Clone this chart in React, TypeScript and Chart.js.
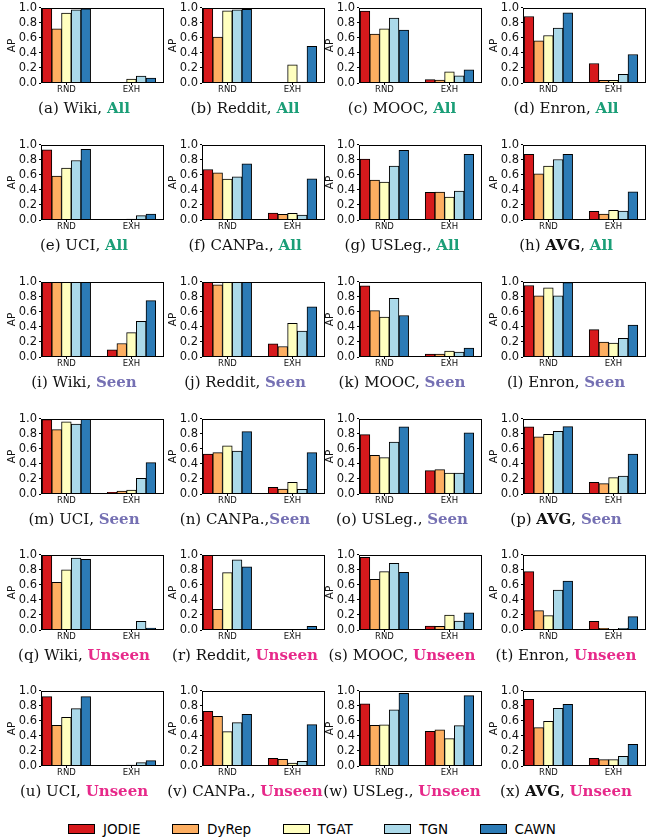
import React, { useEffect, useRef } from 'react';
import { Chart, registerables } from 'chart.js';

Chart.register(...registerables);
Chart.defaults.font.family = "'DejaVu Sans', sans-serif";

const SERIES = ['JODIE', 'DyRep', 'TGAT', 'TGN', 'CAWN'];
const COLORS = ['#d7191c', '#fdae61', '#ffffbf', '#abd9e9', '#2c7bb6'];
const CATEGORIES = ['RND', 'EXH'];
const Y_TICKS = [0, 0.2, 0.4, 0.6, 0.8, 1.0];

const SETTING_COLORS: Record<string, string> = { All: '#1b9e77', Seen: '#7570b3', Unseen: '#e7298a' };

// Values per panel: RND then EXH, in SERIES order
const wikiAll_RND = [0.995, 0.72, 0.93, 0.973, 0.987];
const wikiAll_EXH = [0.004, 0.004, 0.053, 0.093, 0.066];
const redditAll_RND = [0.995, 0.61, 0.96, 0.973, 0.98];
const redditAll_EXH = [0.004, 0.004, 0.243, 0.013, 0.487];
const moocAll_RND = [0.956, 0.65, 0.72, 0.863, 0.703];
const moocAll_EXH = [0.044, 0.04, 0.15, 0.097, 0.177];
const enronAll_RND = [0.885, 0.562, 0.633, 0.73, 0.934];
const enronAll_EXH = [0.26, 0.035, 0.035, 0.115, 0.38];
const uciAll_RND = [0.934, 0.584, 0.69, 0.792, 0.942];
const uciAll_EXH = [0.003, 0.003, 0.013, 0.058, 0.08];
const canpaAll_RND = [0.673, 0.628, 0.544, 0.575, 0.748];
const canpaAll_EXH = [0.093, 0.075, 0.088, 0.066, 0.549];
const uslegAll_RND = [0.81, 0.531, 0.504, 0.717, 0.929];
const uslegAll_EXH = [0.367, 0.372, 0.305, 0.385, 0.876];
const avgAll_RND = [0.876, 0.615, 0.717, 0.805, 0.876];
const avgAll_EXH = [0.115, 0.08, 0.128, 0.12, 0.376];

const wikiSeen_RND = [0.995, 0.995, 0.995, 0.995, 0.995];
const wikiSeen_EXH = [0.096, 0.18, 0.325, 0.474, 0.75];
const redditSeen_RND = [0.995, 0.96, 0.995, 0.995, 0.995];
const redditSeen_EXH = [0.175, 0.14, 0.447, 0.346, 0.667];
const moocSeen_RND = [0.947, 0.618, 0.53, 0.78, 0.553];
const moocSeen_EXH = [0.04, 0.04, 0.08, 0.066, 0.118];
const enronSeen_RND = [0.952, 0.816, 0.92, 0.816, 0.99];
const enronSeen_EXH = [0.364, 0.2, 0.184, 0.25, 0.425];
const uciSeen_RND = [0.99, 0.858, 0.96, 0.93, 0.998];
const uciSeen_EXH = [0.022, 0.04, 0.053, 0.21, 0.418];
const canpaSeen_RND = [0.533, 0.551, 0.64, 0.573, 0.831];
const canpaSeen_EXH = [0.089, 0.067, 0.156, 0.062, 0.551];
const uslegSeen_RND = [0.791, 0.516, 0.484, 0.693, 0.893];
const uslegSeen_EXH = [0.311, 0.324, 0.28, 0.28, 0.813];
const avgSeen_RND = [0.893, 0.76, 0.796, 0.836, 0.898];
const avgSeen_EXH = [0.156, 0.138, 0.218, 0.24, 0.533];

const wikiUnseen_RND = [0.995, 0.636, 0.8, 0.956, 0.942];
const wikiUnseen_EXH = [0.003, 0.003, 0.005, 0.115, 0.027];
const redditUnseen_RND = [0.995, 0.276, 0.764, 0.933, 0.84];
const redditUnseen_EXH = [0.005, 0.005, 0.005, 0.005, 0.049];
const moocUnseen_RND = [0.969, 0.676, 0.778, 0.889, 0.769];
const moocUnseen_EXH = [0.053, 0.049, 0.2, 0.12, 0.227];
const enronUnseen_RND = [0.778, 0.258, 0.191, 0.533, 0.653];
const enronUnseen_EXH = [0.115, 0.022, 0.004, 0.022, 0.178];
const uciUnseen_RND = [0.924, 0.542, 0.649, 0.764, 0.924];
const uciUnseen_EXH = [0.003, 0.003, 0.013, 0.044, 0.071];
const canpaUnseen_RND = [0.729, 0.662, 0.458, 0.578, 0.689];
const canpaUnseen_EXH = [0.102, 0.089, 0.04, 0.062, 0.551];
const uslegUnseen_RND = [0.827, 0.542, 0.547, 0.747, 0.969];
const uslegUnseen_EXH = [0.462, 0.48, 0.364, 0.538, 0.938];
const avgUnseen_RND = [0.889, 0.511, 0.596, 0.769, 0.822];
const avgUnseen_EXH = [0.102, 0.084, 0.084, 0.129, 0.289];

type PanelDef = { letter: string; name: string; setting: string; sep: string; rnd: number[]; exh: number[] };

const PANELS: PanelDef[] = [
  { letter: 'a', name: 'Wiki', setting: 'All', sep: ', ', rnd: wikiAll_RND, exh: wikiAll_EXH },
  { letter: 'b', name: 'Reddit', setting: 'All', sep: ', ', rnd: redditAll_RND, exh: redditAll_EXH },
  { letter: 'c', name: 'MOOC', setting: 'All', sep: ', ', rnd: moocAll_RND, exh: moocAll_EXH },
  { letter: 'd', name: 'Enron', setting: 'All', sep: ', ', rnd: enronAll_RND, exh: enronAll_EXH },
  { letter: 'e', name: 'UCI', setting: 'All', sep: ', ', rnd: uciAll_RND, exh: uciAll_EXH },
  { letter: 'f', name: 'CANPa.', setting: 'All', sep: ', ', rnd: canpaAll_RND, exh: canpaAll_EXH },
  { letter: 'g', name: 'USLeg.', setting: 'All', sep: ', ', rnd: uslegAll_RND, exh: uslegAll_EXH },
  { letter: 'h', name: 'AVG', setting: 'All', sep: ', ', rnd: avgAll_RND, exh: avgAll_EXH },
  { letter: 'i', name: 'Wiki', setting: 'Seen', sep: ', ', rnd: wikiSeen_RND, exh: wikiSeen_EXH },
  { letter: 'j', name: 'Reddit', setting: 'Seen', sep: ', ', rnd: redditSeen_RND, exh: redditSeen_EXH },
  { letter: 'k', name: 'MOOC', setting: 'Seen', sep: ', ', rnd: moocSeen_RND, exh: moocSeen_EXH },
  { letter: 'l', name: 'Enron', setting: 'Seen', sep: ', ', rnd: enronSeen_RND, exh: enronSeen_EXH },
  { letter: 'm', name: 'UCI', setting: 'Seen', sep: ', ', rnd: uciSeen_RND, exh: uciSeen_EXH },
  { letter: 'n', name: 'CANPa.', setting: 'Seen', sep: ',', rnd: canpaSeen_RND, exh: canpaSeen_EXH },
  { letter: 'o', name: 'USLeg.', setting: 'Seen', sep: ', ', rnd: uslegSeen_RND, exh: uslegSeen_EXH },
  { letter: 'p', name: 'AVG', setting: 'Seen', sep: ', ', rnd: avgSeen_RND, exh: avgSeen_EXH },
  { letter: 'q', name: 'Wiki', setting: 'Unseen', sep: ', ', rnd: wikiUnseen_RND, exh: wikiUnseen_EXH },
  { letter: 'r', name: 'Reddit', setting: 'Unseen', sep: ', ', rnd: redditUnseen_RND, exh: redditUnseen_EXH },
  { letter: 's', name: 'MOOC', setting: 'Unseen', sep: ', ', rnd: moocUnseen_RND, exh: moocUnseen_EXH },
  { letter: 't', name: 'Enron', setting: 'Unseen', sep: ', ', rnd: enronUnseen_RND, exh: enronUnseen_EXH },
  { letter: 'u', name: 'UCI', setting: 'Unseen', sep: ', ', rnd: uciUnseen_RND, exh: uciUnseen_EXH },
  { letter: 'v', name: 'CANPa.', setting: 'Unseen', sep: ', ', rnd: canpaUnseen_RND, exh: canpaUnseen_EXH },
  { letter: 'w', name: 'USLeg.', setting: 'Unseen', sep: ', ', rnd: uslegUnseen_RND, exh: uslegUnseen_EXH },
  { letter: 'x', name: 'AVG', setting: 'Unseen', sep: ', ', rnd: avgUnseen_RND, exh: avgUnseen_EXH },
];

// Layout (pixels)
const COL_LEFT = [41, 202, 359, 523];
const ROW_TOP = [7, 144, 281, 418, 554, 690];
const PLOT_W = 123;
const PLOT_H = 76;
const Y_AXIS_W = 41;
const X_AXIS_H = 16;
const PAD_TOP = 8;
const PAD_RIGHT = 2;

const framePlugin = {
  id: 'frame',
  afterDatasetsDraw(chart: any) {
    const { ctx, chartArea } = chart;
    const l = Math.round(chartArea.left) + 0.5;
    const t = Math.round(chartArea.top) + 0.5;
    const r = Math.round(chartArea.right) - 0.5;
    const b = Math.round(chartArea.bottom) - 0.5;
    ctx.save();
    ctx.strokeStyle = '#000';
    ctx.lineWidth = 1;
    ctx.strokeRect(l, t, r - l, b - t);
    ctx.restore();
  },
};

function Panel({ def, left, top }: { def: PanelDef; left: number; top: number }) {
  const ref = useRef<HTMLCanvasElement>(null);
  useEffect(() => {
    const chart = new Chart(ref.current as HTMLCanvasElement, {
      type: 'bar',
      data: {
        datasets: SERIES.map((s, i) => ({
          label: s,
          data: [
            { x: 0, y: def.rnd[i] },
            { x: 1, y: def.exh[i] },
          ],
          backgroundColor: COLORS[i],
          borderColor: '#000',
          borderWidth: 1,
          borderSkipped: 'start',
          barThickness: 9.7,
        })),
      } as any,
      options: {
        animation: false,
        responsive: false,
        devicePixelRatio: 1,
        events: [],
        layout: { padding: { top: PAD_TOP, right: PAD_RIGHT, bottom: 0, left: 0 } },
        plugins: { legend: { display: false }, tooltip: { enabled: false } },
        scales: {
          x: {
            type: 'linear',
            min: -0.39,
            max: 1.5,
            offset: false,
            bounds: 'data',
            afterBuildTicks: (s: any) => {
              s.ticks = CATEGORIES.map((_, i) => ({ value: i }));
            },
            afterFit: (s: any) => {
              s.height = X_AXIS_H;
            },
            ticks: {
              callback: (v: any) => CATEGORIES[Number(v)] ?? '',
              font: { size: 8.5 },
              color: '#111',
              padding: 0,
              maxRotation: 0,
              autoSkip: false,
            },
            grid: { display: true, offset: false, drawOnChartArea: false, drawTicks: true, tickLength: 2, color: '#000' },
            border: { display: false },
          },
          y: {
            type: 'linear',
            min: 0,
            max: 1,
            afterBuildTicks: (s: any) => {
              s.ticks = Y_TICKS.map((v) => ({ value: v }));
            },
            afterFit: (s: any) => {
              s.width = Y_AXIS_W;
            },
            ticks: {
              callback: (v: any) => Number(v).toFixed(1),
              font: { size: 11.5 },
              color: '#111',
              padding: 2,
              autoSkip: false,
            },
            grid: { display: true, drawOnChartArea: false, drawTicks: true, tickLength: 2, color: '#000' },
            border: { display: false },
            title: {
              display: true,
              text: 'AP',
              font: { size: 10.5 },
              color: '#111',
              padding: { top: 5.5, bottom: 0 },
            },
          },
        },
      } as any,
      plugins: [framePlugin],
    });
    return () => chart.destroy();
  }, [def]);
  const w = Y_AXIS_W + PLOT_W + PAD_RIGHT;
  const h = PAD_TOP + PLOT_H + X_AXIS_H;
  return (
    <canvas
      ref={ref}
      width={w}
      height={h}
      style={{ position: 'absolute', left: left - Y_AXIS_W, top: top - PAD_TOP, width: w, height: h }}
    />
  );
}

function Caption({ def, cx, cy }: { def: PanelDef; cx: number; cy: number }) {
  const isAvg = def.name === 'AVG';
  return (
    <div
      style={{
        position: 'absolute',
        left: cx - 120,
        width: 240,
        top: cy - 11,
        height: 22,
        lineHeight: '22px',
        textAlign: 'center',
        fontFamily: "'DejaVu Serif', serif",
        fontSize: 15,
        color: '#111',
        whiteSpace: 'nowrap',
      }}
    >
      ({def.letter}) <span style={{ fontWeight: isAvg ? 'bold' : 'normal' }}>{def.name}</span>
      {def.sep}
      <span style={{ fontWeight: 'bold', color: SETTING_COLORS[def.setting] }}>{def.setting}</span>
    </div>
  );
}

function Legend() {
  return (
    <div
      style={{
        position: 'absolute',
        left: 68,
        top: 819,
        height: 20,
        display: 'flex',
        alignItems: 'center',
        fontFamily: "'DejaVu Sans', sans-serif",
        fontSize: 13.5,
        color: '#000',
        whiteSpace: 'nowrap',
      }}
    >
      {SERIES.map((s, i) => (
        <div key={s} style={{ display: 'flex', alignItems: 'center', marginRight: 31.5 }}>
          <div
            style={{
              width: 27,
              height: 10,
              boxSizing: 'border-box',
              border: '1px solid #000',
              background: COLORS[i],
            }}
          />
          <span style={{ marginLeft: 8 }}>{s}</span>
        </div>
      ))}
    </div>
  );
}

export default function App() {
  return (
    <div style={{ position: 'absolute', left: 0, top: 0, width: 652, height: 840, background: '#fff', overflow: 'hidden' }}>
      {PANELS.map((def, idx) => {
        const col = idx % 4;
        const row = Math.floor(idx / 4);
        const left = COL_LEFT[col];
        const top = ROW_TOP[row];
        return (
          <React.Fragment key={def.letter}>
            <Panel def={def} left={left} top={top} />
            <Caption def={def} cx={left + 43} cy={top + 101} />
          </React.Fragment>
        );
      })}
      <Legend />
    </div>
  );
}
